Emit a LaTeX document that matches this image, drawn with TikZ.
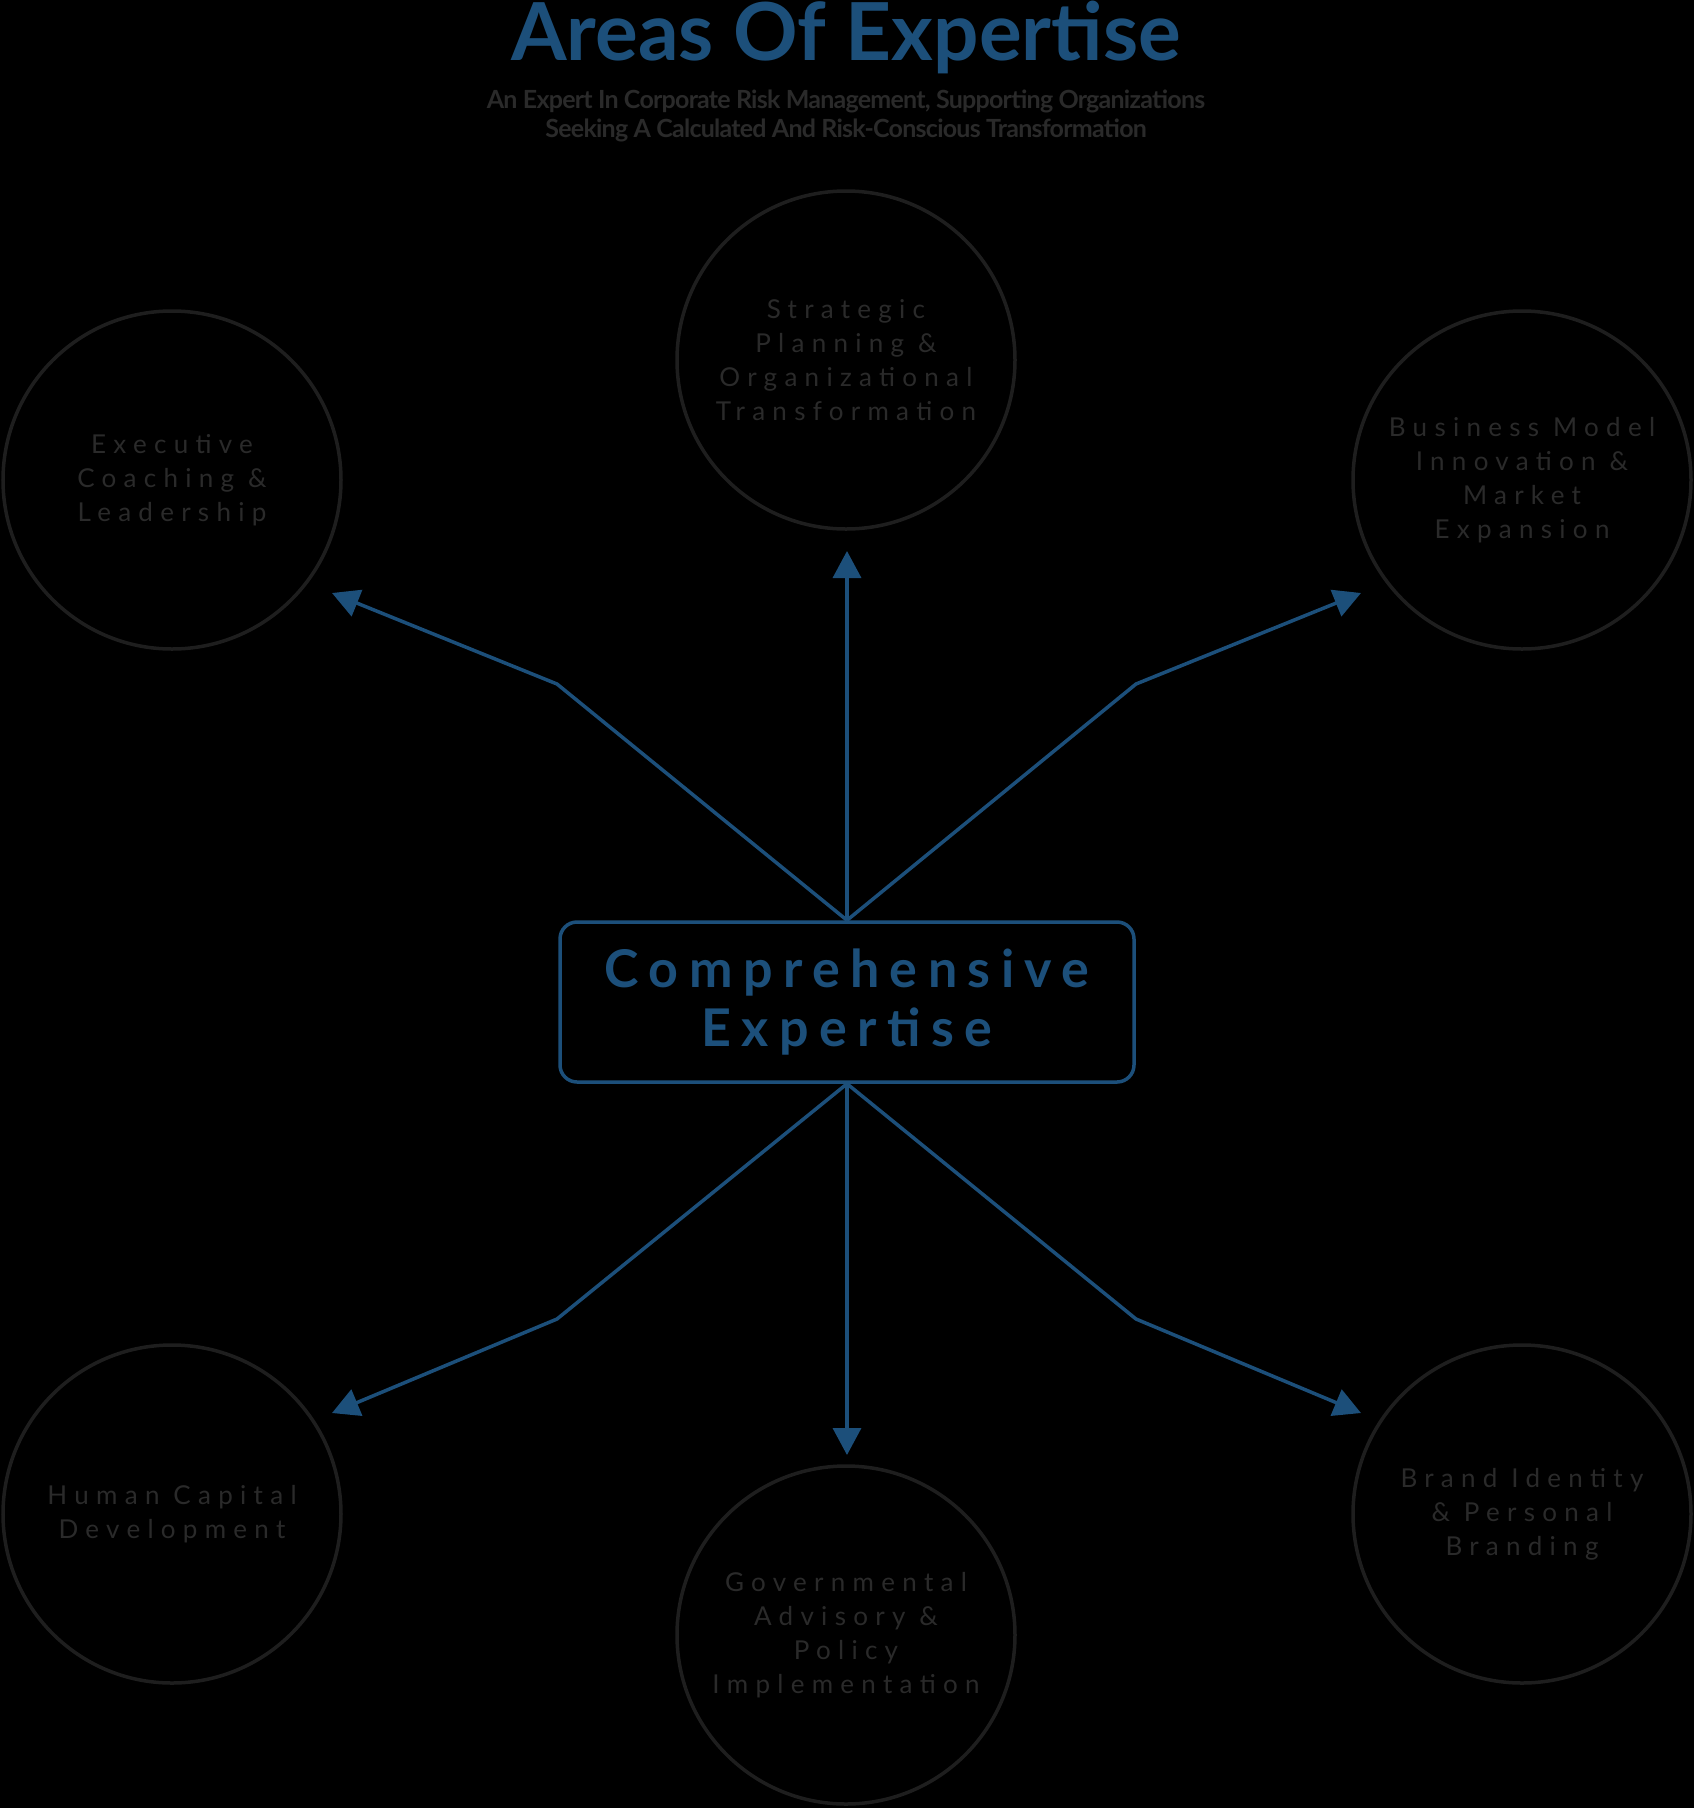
\documentclass[tikz,border=0pt]{standalone}
\usepackage{fontspec}
\setmainfont{Lato}
\newfontfamily\spacedfont[LetterSpace=28]{Lato}
\newfontfamily\hubfont[LetterSpace=20]{Lato}
\newfontfamily\tightfont[LetterSpace=-3]{Lato}
\usetikzlibrary{arrows.meta}

\definecolor{expblue}{RGB}{28,79,122}
\definecolor{ringgray}{RGB}{30,30,30}
\definecolor{labelgray}{RGB}{42,42,42}

\tikzset{
  area/.style={draw=ringgray, line width=3.5pt, circle, minimum size=338pt,
    align=center, text=labelgray, font=\spacedfont\fontsize{26}{34}\selectfont},
  hub/.style={draw=expblue, line width=3.5pt, rounded corners=17pt,
    minimum width=574pt, minimum height=160pt, align=center, text=expblue,
    font=\hubfont\bfseries\fontsize{52}{59}\selectfont},
  link/.style={draw=expblue, line width=3.5pt, -{Triangle[length=27pt,width=28pt]}},
}

\begin{document}
\begin{tikzpicture}[x=1pt, y=-1pt]

    \useasboundingbox (0, 0) rectangle (1694, 1808);
    \fill[black] (0, 0) rectangle (1694, 1808);

    \node[anchor=base, text=expblue, font=\bfseries\fontsize{80}{90}\selectfont] (title) at (846, 60) {Areas Of Expertise};
    \node[anchor=base, text=labelgray, font=\tightfont\bfseries\fontsize{25}{29}\selectfont] (sub1) at (846, 108) {An Expert In Corporate Risk Management, Supporting Organizations};
    \node[anchor=base, text=labelgray, font=\tightfont\bfseries\fontsize{25}{29}\selectfont] (sub2) at (846, 137) {Seeking A Calculated And Risk-Conscious Transformation};

    \node[hub] (hub) at (847, 1002) {Comprehensive\\Expertise};

    \node[area] (strat) at (846, 360) {Strategic\\Planning \&\\Organizational\\Transformation};
    \node[area] (exec) at (172, 480) {Executive\\Coaching \&\\Leadership};
    \node[area] (biz) at (1522, 480) {Business Model\\Innovation \&\\Market\\Expansion};
    \node[area] (human) at (172, 1514) {Human Capital\\Development};
    \node[area] (gov) at (846, 1635) {Governmental\\Advisory \&\\Policy\\Implementation};
    \node[area] (brand) at (1522, 1514) {Brand Identity\\\& Personal\\Branding};

    %upper

    \coordinate (tStrat) at (847, 551);
    \coordinate (kExec) at (557, 684);
    \coordinate (tExec) at (332, 593);
    \coordinate (kBiz) at (1136, 684);
    \coordinate (tBiz) at (1361, 593);

    \path[link] (hub.north) to (tStrat);
    \path[link] (hub.north) -- (kExec) -- (tExec);
    \path[link] (hub.north) -- (kBiz) -- (tBiz);

    %lower

    \coordinate (tGov) at (847, 1455);
    \coordinate (kHuman) at (557, 1319);
    \coordinate (tHuman) at (332, 1413);
    \coordinate (kBrand) at (1136, 1319);
    \coordinate (tBrand) at (1361, 1413);

    \path[link] (hub.south) to (tGov);
    \path[link] (hub.south) -- (kHuman) -- (tHuman);
    \path[link] (hub.south) -- (kBrand) -- (tBrand);

\end{tikzpicture}
\end{document}
